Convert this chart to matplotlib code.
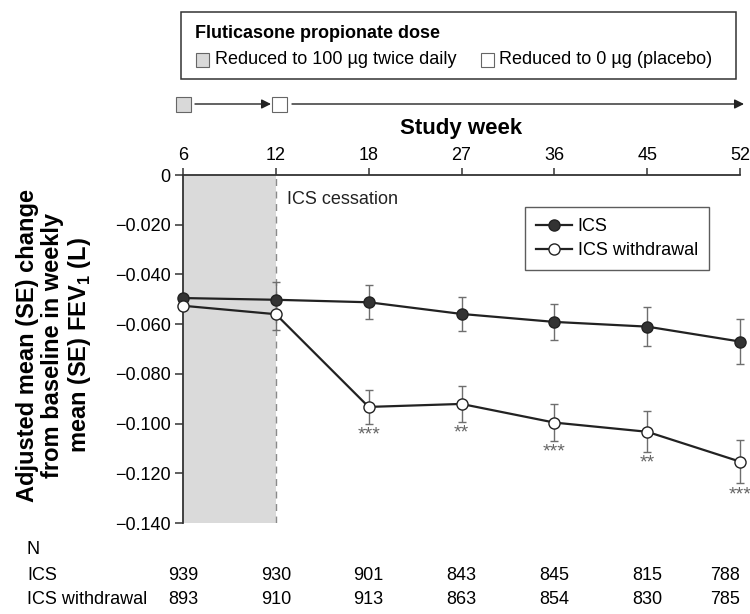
import numpy as np
import matplotlib
matplotlib.use('Agg')
import matplotlib.pyplot as plt
from matplotlib.patches import Rectangle, FancyArrowPatch
from matplotlib.ticker import FuncFormatter
import matplotlib.transforms as mtransforms

plt.rcParams['font.family'] = ['Liberation Sans', 'DejaVu Sans']
plt.rcParams['mathtext.fontset'] = 'custom'
plt.rcParams['mathtext.rm'] = 'Liberation Sans'
plt.rcParams['mathtext.bf'] = 'Liberation Sans:bold'

# data
weeks = ['6', '12', '18', '27', '36', '45', '52']
ics_mean = [-0.0495, -0.0502, -0.0512, -0.0559, -0.0591, -0.0610, -0.0670]
ics_se = [0.0, 0.0070, 0.0068, 0.0070, 0.0072, 0.0077, 0.0090]
wd_mean = [-0.0526, -0.0560, -0.0933, -0.0921, -0.0996, -0.1033, -0.1153]
wd_se = [0.0, 0.0064, 0.0067, 0.0072, 0.0074, 0.0083, 0.0088]
stars = ['', '', '***', '**', '***', '**', '***']
n_ics = [939, 930, 901, 843, 845, 815, 788]
n_wd = [893, 910, 913, 863, 854, 830, 785]

W, H = 750, 614
fig = plt.figure(figsize=(7.5, 6.14), dpi=100)
ax = fig.add_axes([183 / W, 1 - 523 / H, 557 / W, 348 / H])

def fx(px):
    return px / W

def fy(py):
    return 1 - py / H

x = np.arange(len(weeks))
dark = '#222222'
grey = '#6e6e6e'

ax.axvspan(0, 1, color='#dadada', lw=0, zorder=0)
ax.axvline(1, color='#8a8a8a', lw=1, ls=(0, (5, 4)), zorder=1)
ax.text(1.12, -0.0100, 'ICS cessation', fontsize=13, ha='left', va='center', color='#222222')

for m, e in [(ics_mean, ics_se), (wd_mean, wd_se)]:
    eb = ax.errorbar(x, m, yerr=e, fmt='none', ecolor=grey, elinewidth=1, capsize=3, capthick=1, zorder=2)
    for art in eb.lines[1] + eb.lines[2]:
        art.set_clip_on(False)
ax.plot(x, ics_mean, '-o', color=dark, lw=1.6, ms=8, mfc='#333333', mec='#222222', mew=1, label='ICS',
        zorder=3, clip_on=False)
ax.plot(x, wd_mean, '-o', color=dark, lw=1.6, ms=8, mfc='white', mec='#222222', mew=1, label='ICS withdrawal',
        zorder=3, clip_on=False)

for i in range(len(x)):
    if stars[i]:
        ax.annotate(stars[i], (x[i], wd_mean[i] - wd_se[i]), xytext=(0, -11), textcoords='offset pixels',
                    ha='center', va='center', fontsize=14, color='#666666', annotation_clip=False)

ax.set_xlim(0, 6)
ax.set_ylim(-0.14, 0)
ax.set_xticks(x)
ax.set_xticklabels(weeks)
ax.xaxis.tick_top()
ax.xaxis.set_label_position('top')
ax.set_xlabel('Study week', fontsize=16, fontweight='bold', labelpad=9)
ax.set_yticks(np.arange(-0.14, 0.001, 0.02))
ax.yaxis.set_major_formatter(FuncFormatter(lambda v, p: '0' if abs(v) < 1e-9 else ('%.3f' % v).replace('-', '\u2212')))
ax.tick_params(axis='both', labelsize=13, direction='out', length=5, width=1.1, color='#333333', pad=3)
ax.tick_params(axis='y', length=6)

for s in ['right', 'bottom']:
    ax.spines[s].set_visible(False)
for s in ['left', 'top']:
    ax.spines[s].set_linewidth(1.3)
    ax.spines[s].set_color('#333333')

ax.set_ylabel('Adjusted mean (SE) change\nfrom baseline in weekly\nmean (SE) FEV$_{\\mathbf{1}}$ (L)',
              fontsize=17, fontweight='bold', va='center', ha='center', linespacing=1.1)
ax.yaxis.set_label_coords(-0.23, 0.51)

leg = ax.legend(loc='upper right', bbox_to_anchor=(0.944, 0.908), borderaxespad=0, fontsize=13,
                frameon=True, fancybox=False, edgecolor='#333333', handlelength=2.0, handletextpad=0.3,
                labelspacing=0.4, borderpad=0.6)
leg.get_frame().set_linewidth(1.0)

# dose box at top
fig.add_artist(Rectangle((fx(181), fy(79)), fx(736) - fx(181), fy(12) - fy(79), transform=fig.transFigure,
                         fill=False, ec='#333333', lw=1.1))
fig.text(fx(195), fy(33), 'Fluticasone propionate dose', fontsize=13, fontweight='bold', ha='left', va='center')
sq = 13
fig.add_artist(Rectangle((fx(196), fy(60 + sq / 2)), sq / W, sq / H, transform=fig.transFigure,
                         fc='#d9d9d9', ec='#666666', lw=0.8))
fig.text(fx(215), fy(60), 'Reduced to 100 \u00b5g twice daily', fontsize=13, ha='left', va='center')
fig.add_artist(Rectangle((fx(481), fy(60 + sq / 2)), sq / W, sq / H, transform=fig.transFigure,
                         fc='white', ec='#666666', lw=0.8))
fig.text(fx(499), fy(60), 'Reduced to 0 \u00b5g (placebo)', fontsize=13, ha='left', va='center')

# arrow row
sq2 = 15
fig.add_artist(Rectangle((fx(176), fy(104 + sq2 / 2)), sq2 / W, sq2 / H, transform=fig.transFigure,
                         fc='#d9d9d9', ec='#666666', lw=0.8))
fig.add_artist(Rectangle((fx(272), fy(104 + sq2 / 2)), sq2 / W, sq2 / H, transform=fig.transFigure,
                         fc='white', ec='#666666', lw=0.8))
fig.add_artist(FancyArrowPatch((fx(195), fy(104)), (fx(271), fy(104)), transform=fig.transFigure,
                               arrowstyle='-|>', mutation_scale=14, color='#222222', lw=1, shrinkA=0, shrinkB=0))
fig.add_artist(FancyArrowPatch((fx(292), fy(104)), (fx(744), fy(104)), transform=fig.transFigure,
                               arrowstyle='-|>', mutation_scale=14, color='#222222', lw=1, shrinkA=0, shrinkB=0))

# N table
trans = mtransforms.blended_transform_factory(ax.transData, fig.transFigure)
fig.text(fx(27), fy(549), 'N', fontsize=13, ha='left', va='center')
fig.text(fx(27), fy(575), 'ICS', fontsize=13, ha='left', va='center')
fig.text(fx(27), fy(600), 'ICS withdrawal', fontsize=13, ha='left', va='center')
for i in range(len(x)):
    ha = 'right' if i == len(x) - 1 else 'center'
    ax.text(x[i], fy(575), str(n_ics[i]), transform=trans, fontsize=13, ha=ha, va='center')
    ax.text(x[i], fy(600), str(n_wd[i]), transform=trans, fontsize=13, ha=ha, va='center')

fig.savefig('out.png', dpi=100)
